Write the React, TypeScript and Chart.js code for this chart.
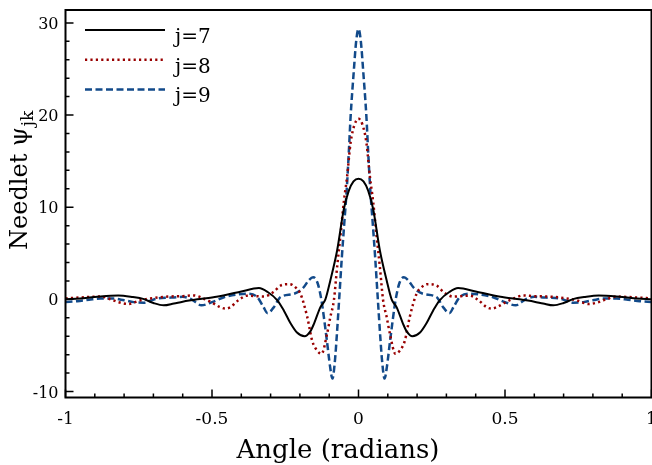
import React, { useEffect, useRef } from "react";
import { Chart, registerables } from "chart.js";

Chart.register(...registerables);

// ---------------- data ----------------
const seriesLabels = ["j=7", "j=8", "j=9"];

const j7X = [
  -1, -0.95, -0.9, -0.82, -0.77, -0.735, -0.7, -0.665, -0.63, -0.6, -0.55, -0.5, -0.45, -0.4, -0.34,
  -0.31, -0.277, -0.255, -0.232, -0.21, -0.184, -0.165, -0.152, -0.13, -0.113, -0.096, -0.073, -0.05,
  -0.033, -0.017, 0, 0.017, 0.033, 0.05, 0.073, 0.096, 0.113, 0.13, 0.152, 0.165, 0.184, 0.21, 0.232,
  0.255, 0.277, 0.31, 0.34, 0.4, 0.45, 0.5, 0.55, 0.6, 0.63, 0.665, 0.7, 0.735, 0.77, 0.82, 0.9, 0.95, 1,
];
const j7Y = [
  0, 0.1, 0.25, 0.42, 0.25, 0.05, -0.4, -0.65, -0.45, -0.25, 0, 0.2, 0.5, 0.85, 1.22, 0.8, -0.1, -1.2,
  -2.6, -3.6, -4.0, -3.5, -2.65, -0.84, 0, 2.07, 5.3, 9.8, 11.8, 12.8, 13.1, 12.8, 11.8, 9.8, 5.3, 2.07,
  0, -0.84, -2.65, -3.5, -4.0, -3.6, -2.6, -1.2, -0.1, 0.8, 1.22, 0.85, 0.5, 0.2, 0, -0.25, -0.45, -0.65,
  -0.4, 0.05, 0.25, 0.42, 0.25, 0.1, 0,
];

const j8X = [
  -1, -0.95, -0.88, -0.845, -0.82, -0.785, -0.744, -0.7, -0.65, -0.6, -0.563, -0.53, -0.5, -0.475,
  -0.454, -0.437, -0.41, -0.38, -0.35, -0.323, -0.29, -0.266, -0.235, -0.215, -0.198, -0.175, -0.158,
  -0.14, -0.126, -0.107, -0.096, -0.084, -0.073, -0.061, -0.05, -0.039, -0.027, -0.013, 0, 0.013, 0.027,
  0.039, 0.05, 0.061, 0.073, 0.084, 0.096, 0.107, 0.126, 0.14, 0.158, 0.175, 0.198, 0.215, 0.235, 0.266,
  0.29, 0.323, 0.35, 0.38, 0.41, 0.437, 0.454, 0.475, 0.5, 0.53, 0.563, 0.6, 0.65, 0.7, 0.744, 0.785,
  0.82, 0.845, 0.88, 0.95, 1,
];
const j8Y = [
  0.1, 0.2, 0.3, 0, -0.3, -0.5, -0.1, 0.15, 0.3, 0.35, 0.43, 0.1, -0.35, -0.8, -1.0, -0.84, -0.1, 0.4,
  0.35, 0.3, 0.8, 1.5, 1.65, 1.3, 0.6, -1.9, -4.5, -5.6, -5.9, -3.7, -1.9, -0.1, 3.5, 7.1, 10.6, 13.3,
  17, 19, 19.6, 19, 17, 13.3, 10.6, 7.1, 3.5, -0.1, -1.9, -3.7, -5.9, -5.6, -4.5, -1.9, 0.6, 1.3, 1.65,
  1.5, 0.8, 0.3, 0.35, 0.4, -0.1, -0.84, -1.0, -0.8, -0.35, 0.1, 0.43, 0.35, 0.3, 0.15, -0.1, -0.5,
  -0.3, 0, 0.3, 0.2, 0.1,
];

const j9X = [
  -1, -0.96, -0.92, -0.88, -0.836, -0.8, -0.767, -0.733, -0.71, -0.687, -0.65, -0.63, -0.6, -0.57,
  -0.536, -0.5, -0.457, -0.41, -0.38, -0.346, -0.325, -0.31, -0.29, -0.266, -0.22, -0.19, -0.169,
  -0.155, -0.14, -0.127, -0.108, -0.097, -0.089, -0.08, -0.074, -0.066, -0.057, -0.048, -0.04, -0.033,
  -0.027, -0.016, -0.008, 0, 0.008, 0.016, 0.027, 0.033, 0.04, 0.048, 0.057, 0.066, 0.074, 0.08, 0.089,
  0.097, 0.108, 0.127, 0.14, 0.155, 0.169, 0.19, 0.22, 0.266, 0.29, 0.31, 0.325, 0.346, 0.38, 0.41,
  0.457, 0.5, 0.536, 0.57, 0.6, 0.63, 0.65, 0.687, 0.71, 0.733, 0.767, 0.8, 0.836, 0.88, 0.92, 0.96, 1,
];
const j9Y = [
  -0.3, -0.2, -0.05, 0.08, 0.08, -0.1, -0.3, -0.36, -0.15, 0.08, 0.18, 0.2, 0.27, 0, -0.65, -0.3, 0.25,
  0.55, 0.6, 0.25, -0.8, -1.5, -0.9, 0.25, 0.6, 1.2, 2.1, 2.4, 1.8, 0, -4.45, -7.3, -8.6, -6.5, -3.9, 0,
  4.5, 8.5, 12, 16, 19.8, 24.8, 28, 29.35, 28, 24.8, 19.8, 16, 12, 8.5, 4.5, 0, -3.9, -6.5, -8.6, -7.3,
  -4.45, 0, 1.8, 2.4, 2.1, 1.2, 0.6, 0.25, -0.9, -1.5, -0.8, 0.25, 0.6, 0.55, 0.25, -0.3, -0.65, 0, 0.27,
  0.2, 0.18, 0.08, -0.15, -0.36, -0.3, -0.1, 0.08, 0.08, -0.05, -0.2, -0.3,
];

const xMajorTicks = [-1, -0.5, 0, 0.5, 1];
const xTickLabels = ["-1", "-0.5", "0", "0.5", "1"];
const yMajorTicks = [-10, 0, 10, 20, 30];
const yTickLabels = ["-10", "0", "10", "20", "30"];
const xTitle = "Angle (radians)";
const yTitle = "Needlet \u03c8";
const yTitleSub = "jk";

// ---------------- styling ----------------
const FONT = "'DejaVu Serif', 'Liberation Serif', serif";

const decorPlugin = {
  id: "decor",
  afterDraw(chart: any) {
    const { ctx, chartArea: a, scales } = chart;
    const xs = scales.x;
    const ys = scales.y;
    ctx.save();
    ctx.strokeStyle = "#000";
    ctx.fillStyle = "#000";

    // ticks (inward)
    ctx.lineWidth = 1.5;
    ctx.beginPath();
    for (let i = -10; i <= 10; i++) {
      const v = i / 10;
      const px = xs.getPixelForValue(v);
      const len = i % 5 === 0 ? 8 : 4;
      ctx.moveTo(px, a.bottom);
      ctx.lineTo(px, a.bottom - len);
    }
    for (let v = -10; v <= 30; v += 2) {
      const py = ys.getPixelForValue(v);
      const len = v % 10 === 0 ? 8 : 4;
      ctx.moveTo(a.left, py);
      ctx.lineTo(a.left + len, py);
    }
    ctx.stroke();

    // frame
    ctx.lineWidth = 2;
    ctx.strokeRect(a.left, a.top, a.right - a.left, a.bottom - a.top);

    // tick labels
    ctx.font = `16px ${FONT}`;
    ctx.textBaseline = "alphabetic";
    ctx.textAlign = "right";
    yMajorTicks.forEach((v, i) => {
      ctx.fillText(yTickLabels[i], a.left - 7, ys.getPixelForValue(v) + 6);
    });
    ctx.font = `17px ${FONT}`;
    ctx.textAlign = "center";
    xMajorTicks.forEach((v, i) => {
      ctx.fillText(xTickLabels[i], xs.getPixelForValue(v), a.bottom + 26);
    });

    // axis titles
    ctx.font = `26px ${FONT}`;
    ctx.textAlign = "center";
    ctx.fillText(xTitle, 338, 458);

    ctx.save();
    ctx.translate(27, 250);
    ctx.rotate(-Math.PI / 2);
    ctx.textAlign = "left";
    ctx.font = `24px ${FONT}`;
    ctx.fillText(yTitle, 0, 0);
    const w = ctx.measureText(yTitle).width;
    ctx.font = `17px ${FONT}`;
    ctx.fillText(yTitleSub, w + 1, 6);
    ctx.restore();

    // legend
    chart.data.datasets.forEach((ds: any, i: number) => {
      const y = 30 + i * 29.7;
      ctx.save();
      ctx.strokeStyle = ds.borderColor;
      ctx.lineWidth = ds.borderWidth;
      ctx.setLineDash(ds.borderDash || []);
      ctx.beginPath();
      ctx.moveTo(85, y);
      ctx.lineTo(165, y);
      ctx.stroke();
      ctx.restore();
      ctx.font = `20px ${FONT}`;
      ctx.textAlign = "left";
      ctx.fillText(ds.label, 175, y + 13);
    });

    ctx.restore();
  },
};

function toPoints(xs: number[], ys: number[]) {
  return xs.map((x, i) => ({ x, y: ys[i] }));
}

export default function App() {
  const ref = useRef<HTMLCanvasElement | null>(null);

  useEffect(() => {
    document.body.style.margin = "0";
    const canvas = ref.current;
    if (!canvas) return;
    const chart = new Chart(canvas, {
      type: "line",
      data: {
        datasets: [
          {
            label: seriesLabels[0],
            data: toPoints(j7X, j7Y),
            borderColor: "#000000",
            borderWidth: 2,
            borderDash: [],
            cubicInterpolationMode: "monotone",
            pointRadius: 0,
            fill: false,
          },
          {
            label: seriesLabels[1],
            data: toPoints(j8X, j8Y),
            borderColor: "#990000",
            borderWidth: 2.5,
            borderDash: [2.2, 3.2],
            cubicInterpolationMode: "monotone",
            pointRadius: 0,
            fill: false,
          },
          {
            label: seriesLabels[2],
            data: toPoints(j9X, j9Y),
            borderColor: "#124a8a",
            borderWidth: 2.5,
            borderDash: [7, 3.5],
            cubicInterpolationMode: "monotone",
            pointRadius: 0,
            fill: false,
          },
        ],
      },
      options: {
        responsive: false,
        animation: false,
        devicePixelRatio: 1,
        parsing: true,
        layout: { padding: { left: 65.5, right: 0.5, top: 10, bottom: 67.5 } },
        scales: {
          x: { type: "linear", min: -1, max: 1, display: false },
          y: { type: "linear", min: -10.65, max: 31.4, display: false },
        },
        plugins: {
          legend: { display: false },
          tooltip: { enabled: false },
          title: { display: false },
        },
      },
      plugins: [decorPlugin],
    } as any);
    return () => chart.destroy();
  }, []);

  return (
    <canvas
      ref={ref}
      width={652}
      height={465}
      style={{ display: "block", width: 652, height: 465 }}
    />
  );
}
